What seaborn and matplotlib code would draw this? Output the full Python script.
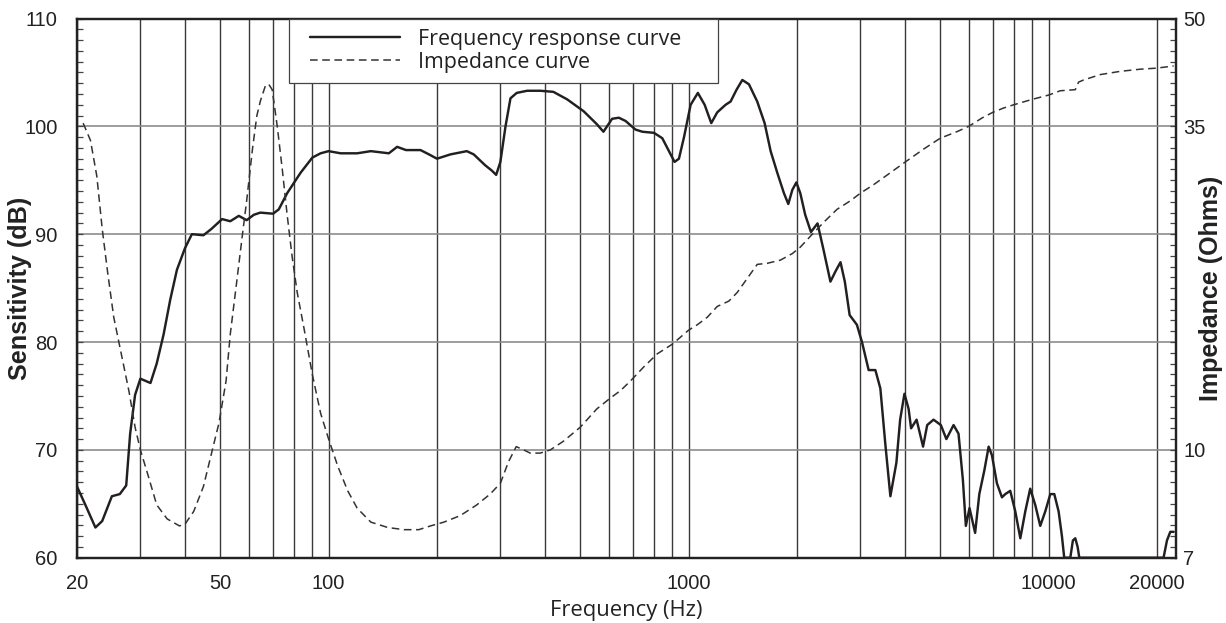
import numpy as np
import pandas as pd
import matplotlib
matplotlib.use("Agg")
import matplotlib.pyplot as plt
from matplotlib.lines import Line2D
from matplotlib.legend_handler import HandlerLine2D
from matplotlib.ticker import FixedLocator, MultipleLocator, NullFormatter
import seaborn as sns

# ------------------------------------------------------------------
# data
# ------------------------------------------------------------------
# frequency response (left axis, dB)
resp_hz = [20, 21.1, 22.5, 23.5, 25.0, 26.3, 27.4, 28.1, 29.0, 30, 32.0, 33.3,
           34.8, 36.3, 37.9, 39.9, 41.7, 44.9, 47.3, 50.6, 53.3, 56.3, 59.2, 62,
           64.6, 70.1, 72.7, 76.7, 83.6, 90.1, 95.0, 100, 108, 120, 131, 147,
           155, 164, 180, 190, 200, 218, 242, 253, 272, 284, 292, 300, 310, 320,
           333, 356, 387, 421, 460, 511, 556, 580, 613, 640, 668, 712, 744, 801,
           845, 882, 914, 940, 971, 1013, 1061, 1108, 1156, 1201, 1267, 1308,
           1359, 1410, 1471, 1551, 1626, 1690, 1763, 1840, 1892, 1941, 1992,
           2043, 2108, 2187, 2281, 2372, 2477, 2563, 2642, 2716, 2801, 2934,
           3031, 3163, 3302, 3409, 3520, 3635, 3777, 3869, 3977, 4084, 4150,
           4298, 4480, 4600, 4790, 5020, 5200, 5445, 5620, 5780, 5890, 6030,
           6250, 6420, 6630, 6815, 6960, 7185, 7420, 7580, 7825, 8080, 8345,
           8615, 8890, 9180, 9480, 9790, 10110, 10370, 10660, 10890, 11050,
           11490, 11680, 11860, 12040, 12170, 20860, 21320, 21780, 22250]
resp_db = [66.6, 64.9, 62.8, 63.4, 65.7, 65.9, 66.7, 71.5, 75.1, 76.6, 76.2, 78.0,
           80.7, 83.9, 86.7, 88.7, 90.0, 89.9, 90.5, 91.4, 91.2, 91.7, 91.3, 91.8,
           92.0, 91.9, 92.3, 93.8, 95.7, 97.1, 97.5, 97.7, 97.5, 97.5, 97.7, 97.5,
           98.1, 97.8, 97.8, 97.4, 97.0, 97.4, 97.7, 97.4, 96.4, 95.9, 95.5, 96.7,
           100.0, 102.6, 103.1, 103.3, 103.3, 103.2, 102.5, 101.4, 100.2, 99.5,
           100.7, 100.8, 100.5, 99.7, 99.5, 99.4, 98.9, 97.7, 96.7, 97.0, 99.0,
           102.0, 103.1, 102.0, 100.3, 101.3, 102.0, 102.3, 103.4, 104.3, 103.9,
           102.3, 100.3, 97.7, 95.7, 93.8, 92.8, 94.1, 94.8, 93.8, 91.8, 90.2,
           91.0, 88.5, 85.6, 86.6, 87.4, 85.6, 82.5, 81.6, 80.0, 77.4, 77.4, 75.7,
           70.5, 65.7, 68.8, 72.8, 75.2, 73.8, 72.0, 72.8, 70.3, 72.3, 72.8, 72.3,
           71.0, 72.3, 71.5, 67.2, 62.95, 64.6, 62.3, 65.9, 68.1, 70.3, 69.5, 66.9,
           65.6, 65.9, 66.2, 64.3, 61.8, 64.3, 66.4, 64.9, 62.95, 64.3, 65.9, 65.9,
           64.3, 62.0, 60.0, 60.0, 61.6, 61.8, 61.0, 60.0, 60.0, 61.6, 62.4, 62.4]

# impedance curve, read as height on the shared scale (right axis labels below)
imp_hz = [20.8, 21.8, 22.7, 23.5, 24.3, 25.3, 26.4, 27.9, 29.0, 30, 31.6, 33.3,
          35.6, 38.5, 39.9, 42.2, 44.9, 46.9, 49.6, 51.9, 53.3, 55.7, 57.4, 59.2,
          61.5, 63.2, 64.7, 66.8, 68.2, 69.7, 72.0, 74.3, 76.7, 79.2, 81.8, 85.4,
          90.1, 95, 100, 106, 113, 120, 131, 146, 162, 178, 192, 209, 232, 258,
          281, 300, 316, 332, 348, 363, 387, 413, 449, 500, 556, 606, 647, 690,
          751, 818, 901, 1000, 1057, 1127, 1201, 1294, 1365, 1455, 1551, 1654,
          1800, 1941, 2043, 2178, 2372, 2583, 2815, 3000, 3268, 3635, 4000, 4500,
          5000, 5558, 6000, 6550, 7000, 7500, 8000, 9000, 10000, 10775, 11860,
          12110, 12510, 13920, 15810, 17980, 20000, 22250]
imp_level = [100.3, 98.7, 95.4, 90.5, 86.6, 82.3, 79.3, 75.4, 72.1, 70.0, 67.5, 64.9,
             63.6, 62.95, 63.1, 64.3, 66.6, 69.2, 72.5, 76.4, 80.7, 85.9, 89.5, 93.1,
             98.0, 101.0, 102.4, 103.8, 103.9, 103.4, 100.0, 96.1, 91.8, 87.9, 84.6,
             81.3, 77.0, 73.4, 71.0, 68.5, 66.2, 64.6, 63.3, 62.8, 62.6, 62.6, 62.95,
             63.3, 63.9, 64.9, 65.9, 66.9, 68.9, 70.3, 70.0, 69.7, 69.7, 70.0, 70.8,
             72.1, 73.8, 74.8, 75.5, 76.4, 77.7, 78.9, 79.8, 81.1, 81.6, 82.3, 83.3,
             83.8, 84.6, 85.9, 87.2, 87.3, 87.6, 88.2, 88.8, 89.8, 91.1, 92.3, 93.1,
             93.8, 94.6, 95.7, 96.7, 97.9, 98.9, 99.5, 100.0, 100.8, 101.3, 101.7,
             102.0, 102.5, 102.9, 103.3, 103.4, 104.1, 104.3, 104.8, 105.1, 105.3,
             105.4, 105.6]

x_tick_hz = [20, 50, 100, 1000, 10000, 20000]
x_grid_hz = [30, 40, 60, 70, 80, 90, 200, 300, 400, 500, 600, 700, 800, 900,
             2000, 3000, 4000, 5000, 6000, 7000, 8000, 9000]
db_ticks = [60, 70, 80, 90, 100, 110]
ohm_tick_levels = [60, 70, 100, 110]
ohm_tick_labels = ["7", "10", "35", "50"]

resp = pd.DataFrame({"hz": resp_hz, "db": resp_db})
imp = pd.DataFrame({"hz": imp_hz, "level": imp_level})

# ------------------------------------------------------------------
# plot
# ------------------------------------------------------------------
sns.set_theme(style="white")
plt.rcParams["font.family"] = ["Liberation Sans", "DejaVu Sans"]
INK = "#231f20"
TXT = "#222222"

fig = plt.figure(figsize=(12.26, 6.23), dpi=100)
ax = fig.add_axes([0.0628, 0.1048, 0.8962, 0.8655])
ax2 = ax.twinx()

sns.lineplot(data=resp, x="hz", y="db", ax=ax, color=INK, lw=1.75,
             label="Frequency response curve", legend=False, zorder=3)
sns.lineplot(data=imp, x="hz", y="level", ax=ax2, color="#333333", lw=1.1,
             label="Impedance curve", legend=False)
ax2.lines[0].set_dashes([5.0, 3.0])

ax.set_xscale("log")
ax.set_xlim(20, 22550)
ax.set_ylim(60, 110)
ax2.set_ylim(60, 110)

ax.xaxis.set_major_locator(FixedLocator(x_tick_hz))
ax.set_xticklabels([str(v) for v in x_tick_hz])
ax.xaxis.set_minor_locator(FixedLocator(x_grid_hz))
ax.xaxis.set_minor_formatter(NullFormatter())
ax.tick_params(axis="x", which="both", length=0, pad=12, labelsize=14.5,
               labelcolor=TXT)

ax.set_yticks(db_ticks)
ax.yaxis.set_minor_locator(MultipleLocator(1))
ax.tick_params(axis="y", which="both", direction="in", length=4.3, width=0.9,
               color="#444444", pad=14, labelsize=14.5, labelcolor=TXT)

ax2.set_yticks(ohm_tick_levels)
ax2.set_yticklabels(ohm_tick_labels)
ax2.yaxis.set_minor_locator(MultipleLocator(1))
ax2.tick_params(axis="y", which="both", direction="in", length=4.3, width=0.9,
                color="#444444", pad=5.5, labelsize=14.5, labelcolor=TXT)
ax2.grid(False)

ax.grid(axis="x", which="both", color="#3a3a3a", lw=1.0)
ax.grid(axis="y", which="major", color="#8c8c8c", lw=1.2)
ax.set_axisbelow(True)

for a in (ax, ax2):
    for s in a.spines.values():
        s.set_color(TXT)
        s.set_linewidth(1.6)

ax.set_xlabel("Frequency (Hz)", fontsize=15.8, family=["Open Sans", "DejaVu Sans"],
              color=TXT)
ax.xaxis.set_label_coords(0.5, -0.079)
ax.set_ylabel("Sensitivity (dB)", fontsize=18.2, fontweight="bold", color=TXT)
ax.yaxis.set_label_coords(-0.041, 0.5)
ax2.set_ylabel("Impedance (Ohms)", fontsize=18.0, fontweight="bold", color=TXT)
ax2.yaxis.set_label_coords(1.021, 0.5)

handles = [ax.lines[0], ax2.lines[0]]
labels = ["Frequency response curve", "Impedance curve"]
leg = ax2.legend(handles, labels, loc="upper left",
                 bbox_to_anchor=(0.1932, 0.0, 0.3905, 1.0), mode="expand",
                 borderaxespad=0, frameon=True, fancybox=False, framealpha=1,
                 edgecolor="#444444",
                 prop={"family": ["Open Sans", "DejaVu Sans"], "size": 15.4},
                 handler_map={Line2D: HandlerLine2D(xpad=0.5)},
                 handlelength=4.7, handletextpad=0.85, borderpad=0.48,
                 labelspacing=0.1)
leg.get_frame().set_linewidth(0.9)
for t in leg.get_texts():
    t.set_color(TXT)

fig.savefig("out.png", dpi=100, facecolor="white")
